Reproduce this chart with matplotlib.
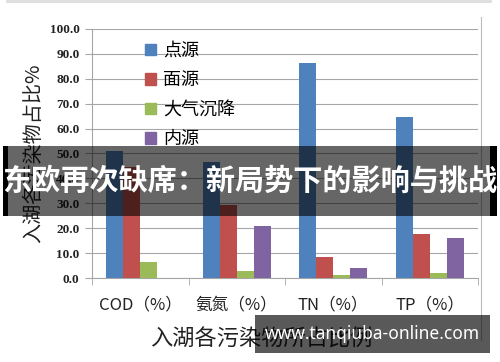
import numpy as np
import matplotlib
matplotlib.use("Agg")
import matplotlib.pyplot as plt
from matplotlib.patches import Patch, Rectangle

plt.rcParams["font.family"] = ["Noto Sans CJK SC", "DejaVu Sans"]

# data
categories = ["COD（%）", "氨氮（%）", "TN（%）", "TP（%）"]
series_names = ["点源", "面源", "大气沉降", "内源"]
point_src = [50.8, 46.5, 86.2, 64.8]
nonpoint_src = [44.5, 29.3, 8.3, 17.6]
atmos_dep = [6.5, 2.8, 1.3, 1.9]
internal_src = [0.0, 20.8, 3.9, 16.0]
yticks = [0, 10, 20, 30, 40, 50, 60, 70, 80, 90, 100]

COLORS = ["#4F81BD", "#C0504D", "#9BBB59", "#8064A2"]
GRID = "#A6A6A6"

fig = plt.figure(figsize=(5, 3.62), dpi=100)
ax = fig.add_axes([0.184, 0.232, 0.772, 0.688])

x = np.arange(len(categories))
width = 0.175
all_series = [point_src, nonpoint_src, atmos_dep, internal_src]
for i, (vals, color) in enumerate(zip(all_series, COLORS)):
    ax.bar(x + (i - 1.5) * width, vals, width, color=color, zorder=3)

ax.set_xlim(-0.5, len(categories) - 0.5)
ax.set_ylim(0, 100)
ax.set_yticks(yticks)
ax.set_yticklabels([f"{v:.1f}" for v in yticks],
                   fontfamily="Liberation Serif", fontweight="bold", fontsize=9.5)
ax.yaxis.grid(True, color=GRID, linewidth=0.8, zorder=0)

ax.set_xticks(x)
ax.set_xticklabels(categories, fontsize=12, color="#222222")
ax.set_xticks(np.arange(-0.5, len(categories)), minor=True)
ax.tick_params(axis="x", which="major", length=0, pad=13)
ax.tick_params(axis="x", which="minor", length=5, color=GRID)
ax.tick_params(axis="y", length=5, color=GRID, pad=4, labelcolor="#222222")

for side in ["top", "right"]:
    ax.spines[side].set_visible(False)
for side in ["left", "bottom"]:
    ax.spines[side].set_color(GRID)

ax.set_xlabel("入湖各污染物所占比例", fontsize=16, color="#222222")
ax.xaxis.set_label_coords(0.44, -0.2)
ax.set_ylabel("入湖各污染物占比%", fontsize=14.5, color="#222222")
ax.yaxis.set_label_coords(-0.125, 0.5)

handles = [Patch(color=c) for c in COLORS]
ax.legend(handles, series_names, loc="upper left", bbox_to_anchor=(0.105, 1.0),
          frameon=False, fontsize=13, handlelength=0.6, handleheight=0.6,
          handletextpad=0.4, labelspacing=0.64, borderpad=0.2)

# chart area border bits
fig.add_artist(plt.Line2D([0.014, 0.98], [0.997, 0.997], color="#DDDDDD", lw=2))
fig.add_artist(plt.Line2D([0.962, 0.962], [0.06, 0.953], color="#BBBBBB", lw=0.8))

# overlay banner
fig.add_artist(Rectangle((0.006, 0.403), 0.988, 0.193, transform=fig.transFigure,
                         facecolor="black", alpha=0.6, edgecolor="none", zorder=10))
fig.add_artist(Rectangle((0.006, 0.403), 0.01, 0.193, transform=fig.transFigure,
                         facecolor="black", edgecolor="none", zorder=10))
fig.add_artist(Rectangle((0.98, 0.403), 0.014, 0.193, transform=fig.transFigure,
                         facecolor="black", edgecolor="none", zorder=10))
fig.text(0.5, 0.5, "东欧再次缺席：新局势下的影响与挑战", ha="center", va="center",
         fontsize=21, fontweight="bold", color="white", zorder=11)

# watermark
fig.add_artist(Rectangle((0.51, 0.025), 0.47, 0.105, transform=fig.transFigure,
                         facecolor="black", alpha=0.65, edgecolor="none", zorder=10))
fig.text(0.745, 0.077, "www.tanqiuba-online.com", ha="center", va="center",
         fontsize=12.5, fontweight="bold", color="white", family="Noto Sans", zorder=11)

fig.savefig("out.png", dpi=100)
